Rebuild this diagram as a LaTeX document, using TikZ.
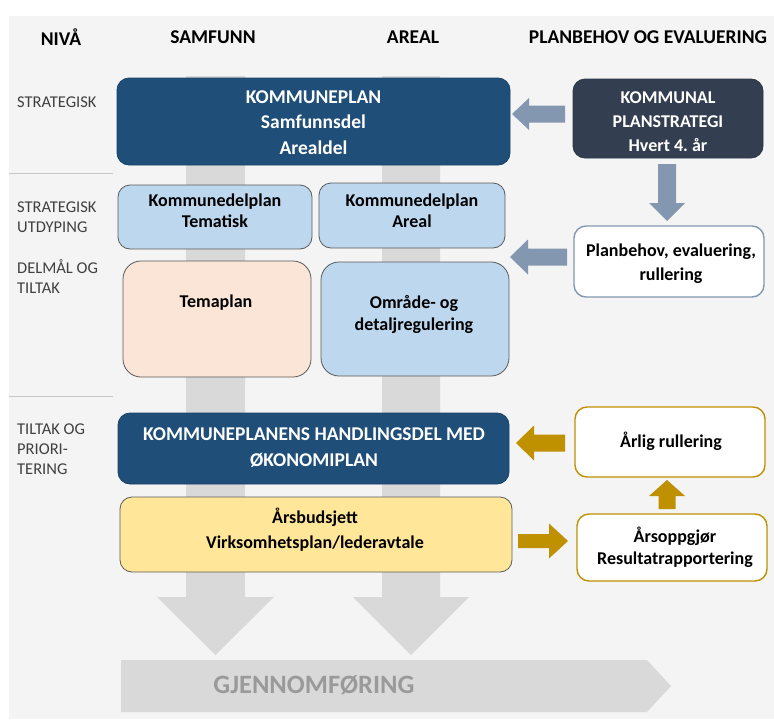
\documentclass[tikz,border=0pt]{standalone}
\usepackage{fontspec}
\setmainfont{Carlito}
\usetikzlibrary{calc}
\definecolor{kdark}{HTML}{1F4E79}
\definecolor{kslate}{HTML}{333F50}
\definecolor{klight}{HTML}{BDD7EE}
\definecolor{kpeach}{HTML}{FBE5D6}
\definecolor{kyellow}{HTML}{FFE699}
\definecolor{kgold}{HTML}{BF9000}
\definecolor{kbluegrey}{HTML}{8497B0}
\definecolor{kbar}{HTML}{D9D9D9}
\definecolor{kbg}{HTML}{F4F4F4}
\definecolor{klab}{HTML}{404040}
\definecolor{kgtxt}{HTML}{9A9A9A}
\definecolor{kedge}{HTML}{5A5A5A}
\newcommand{\fatarrow}[6]{%
  \coordinate (fab) at ($(#3)!#6!(#2)$);
  \fill[#1] ($(#2)!#4!90:(#3)$) -- ($(fab)!#4!90:(#3)$) -- ($(fab)!#5!90:(#3)$) -- (#3)
    -- ($(fab)!#5!-90:(#3)$) -- ($(fab)!#4!-90:(#3)$) -- ($(#2)!#4!-90:(#3)$) -- cycle;}
\frenchspacing
\begin{document}
\begin{tikzpicture}[x=1pt,y=-1pt,
  basebox/.style={inner sep=0pt, rounded corners=12pt, line width=0.8pt},
  darkbox/.style={basebox, draw=kdark!85!black, fill=kdark},
  slatebox/.style={basebox, draw=kslate!85!black, fill=kslate},
  lightbox/.style={basebox, draw=kedge, fill=klight},
  peachbox/.style={basebox, draw=kedge, fill=kpeach},
  yellowbox/.style={basebox, draw=kedge, fill=kyellow},
  planbox/.style={basebox, draw=kbluegrey, fill=white, line width=1.4pt},
  goldbox/.style={basebox, draw=kgold, fill=white, line width=1.4pt},
  btxt/.style={font=\fontsize{18}{22}\selectfont\bfseries, align=center, text=black, inner sep=0pt},
  wtxt/.style={font=\fontsize{19.5}{25.5}\selectfont\bfseries, align=center, text=white, inner sep=0pt},
  headtxt/.style={font=\fontsize{19.5}{23}\selectfont\bfseries, text=black, inner sep=0pt},
  labtxt/.style={font=\fontsize{16.5}{20}\selectfont, text=klab, anchor=west, align=left, inner sep=0pt},
  sepline/.style={draw=black!22, line width=1pt},
  bgarrow/.style={fill=kbluegrey},
  goldarrow/.style={fill=kgold}
]
\useasboundingbox (0,0) rectangle (774,720);
\fill[white] (0,0) rectangle (774,720);
\fill[kbg] (9,16) rectangle (774,719);

% headers
\node[headtxt] (hniva) at (61,37) {NIVÅ};
\node[headtxt] (hsam) at (213,37) {SAMFUNN};
\node[headtxt] (hareal) at (413,37) {AREAL};
\node[headtxt] (hplan) at (648,37) {PLANBEHOV OG EVALUERING};

% left labels
\node[labtxt] (l1) at (17,102) {STRATEGISK};
\node[labtxt] (l2) at (17,217) {STRATEGISK\\UTDYPING};
\node[labtxt] (l3) at (17,277) {DELMÅL OG\\TILTAK};
\node[labtxt] (l4) at (17,449) {TILTAK OG\\PRIORI-\\TERING};
\draw[sepline] (9,173) -- (113,173);
\draw[sepline] (9,396) -- (113,396);

% big grey columns
\fill[kbar] (186,76) -- (245,76) -- (245,597) -- (274,597) -- (215.5,655) -- (157,597) -- (186,597) -- cycle;
\fill[kbar] (382,76) -- (440,76) -- (440,597) -- (469,597) -- (411,655) -- (353,597) -- (382,597) -- cycle;

% GJENNOMFORING
\fill[kbar] (121,660) -- (647,660) -- (671,686) -- (647,712) -- (121,712) -- cycle;
\node[font=\fontsize{26.5}{30}\selectfont\bfseries, text=kgtxt, inner sep=0pt] (gjen) at (314,685) {GJENNOMFØRING};

% boxes
\node[darkbox, minimum width=393pt, minimum height=87pt] (kp) at (313.5,121.5) {};
\node[wtxt] (kpT) at (313.5,122.5) {KOMMUNEPLAN\\Samfunnsdel\\Arealdel};

\node[lightbox, minimum width=194pt, minimum height=64pt] (kdt) at (215,217) {};
\node[btxt, font=\fontsize{18}{21}\selectfont\bfseries] (kdtT) at (215,210.5) {Kommunedelplan\\Tematisk};

\node[lightbox, minimum width=186pt, minimum height=65pt] (kda) at (412,215.5) {};
\node[btxt, font=\fontsize{18}{21}\selectfont\bfseries] (kdaT) at (412,210.5) {Kommunedelplan\\Areal};

\node[peachbox, minimum width=188pt, minimum height=116pt, rounded corners=18pt] (tema) at (217,319) {};
\node[btxt] (temaT) at (216,303) {Temaplan};

\node[lightbox, minimum width=188pt, minimum height=114pt, rounded corners=18pt] (omr) at (415,319) {};
\node[btxt] (omrT) at (414,314.5) {Område- og\\detaljregulering};

\node[slatebox, minimum width=190pt, minimum height=79pt] (strat) at (668,118.5) {};
\node[wtxt, font=\fontsize{18}{24}\selectfont\bfseries] (stratT) at (668,122) {KOMMUNAL\\PLANSTRATEGI\\Hvert 4. år};

\node[planbox, minimum width=190pt, minimum height=71pt] (plan) at (669,261.5) {};
\node[btxt, font=\fontsize{18}{24}\selectfont\bfseries] (planT) at (671,264) {Planbehov, evaluering,\\rullering};

\node[darkbox, minimum width=391pt, minimum height=71pt] (hand) at (313.5,448.5) {};
\node[wtxt, font=\fontsize{19.5}{26}\selectfont\bfseries] (handT) at (314,448) {KOMMUNEPLANENS HANDLINGSDEL MED\\ØKONOMIPLAN};

\node[yellowbox, minimum width=392pt, minimum height=75pt] (bud) at (316,534.5) {};
\node[btxt, font=\fontsize{18}{25}\selectfont\bfseries] (budT) at (315,529.5) {Årsbudsjett\\Virksomhetsplan/lederavtale};

\node[goldbox, minimum width=190pt, minimum height=70pt] (arl) at (670,442) {};
\node[btxt] (arlT) at (671,441) {Årlig rullering};

\node[goldbox, minimum width=190pt, minimum height=67pt] (ars) at (672,547.5) {};
\node[btxt, font=\fontsize{18}{22}\selectfont\bfseries] (arsT) at (675,547) {Årsoppgjør\\Resultatrapportering};

% fat arrows
\coordinate (a1s) at (565,114);  \coordinate (a1t) at (512,114);
\fatarrow{bgarrow}{a1s}{a1t}{8.5pt}{16pt}{17pt}
\coordinate (a2s) at (667,164);  \coordinate (a2t) at (667,221);
\fatarrow{bgarrow}{a2s}{a2t}{9pt}{18pt}{18pt}
\coordinate (a3s) at (567,257);  \coordinate (a3t) at (510,257);
\fatarrow{bgarrow}{a3s}{a3t}{8.5pt}{17.5pt}{18pt}
\coordinate (a4s) at (565,443);  \coordinate (a4t) at (516,443);
\fatarrow{goldarrow}{a4s}{a4t}{8.5pt}{17.5pt}{18pt}
\coordinate (a5s) at (518,541);  \coordinate (a5t) at (568,541);
\fatarrow{goldarrow}{a5s}{a5t}{7pt}{17.5pt}{19pt}
\coordinate (a6s) at (667,509);  \coordinate (a6t) at (667,480);
\fatarrow{goldarrow}{a6s}{a6t}{8.5pt}{18pt}{16pt}
\end{tikzpicture}
\end{document}
